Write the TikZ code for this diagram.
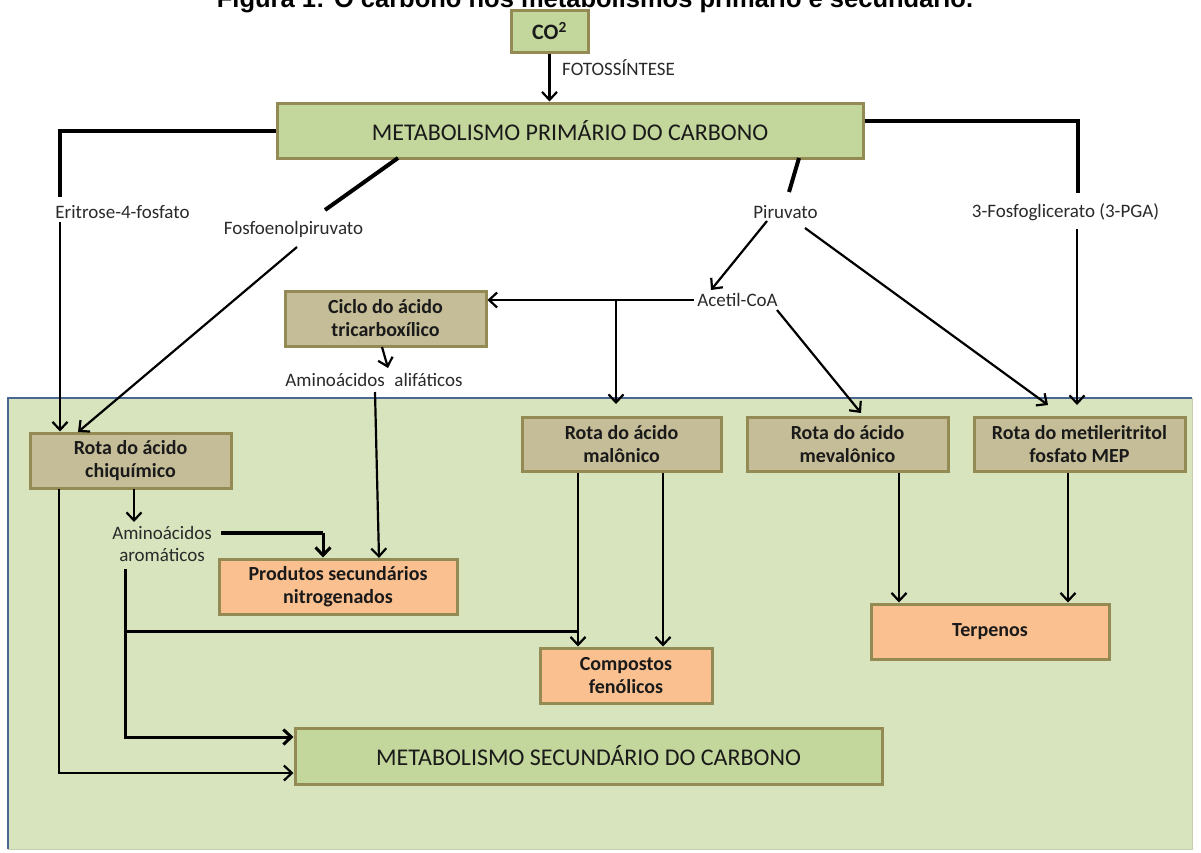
\documentclass[tikz,border=0pt]{standalone}
\usepackage{fontspec}
\setmainfont{Carlito}
\newfontfamily\titlefont{Liberation Sans}
\usetikzlibrary{arrows.meta,calc}
\definecolor{gfill}{HTML}{C3D69B}
\definecolor{tfill}{HTML}{C4BD97}
\definecolor{ofill}{HTML}{FAC090}
\definecolor{bord}{HTML}{948A54}
\definecolor{region}{HTML}{D7E4BD}
\definecolor{regline}{HTML}{4A6794}
\definecolor{txt}{HTML}{1A1A1A}
\definecolor{lbl}{HTML}{2A2A2A}
\tikzset{
  box/.style={draw=bord, line width=3pt, inner sep=0pt, align=center, text=txt},
  gbox/.style={box, fill=gfill, font=\fontsize{24}{28}\selectfont},
  tbox/.style={box, fill=tfill, font=\bfseries\fontsize{20}{23}\selectfont},
  obox/.style={box, fill=ofill, font=\bfseries\fontsize{20}{23}\selectfont},
  lab/.style={inner sep=0pt, text=lbl, font=\fontsize{19}{22}\selectfont, align=center},
  thk/.style={line width=4pt, draw=black},
  mid/.style={line width=3pt, draw=black},
  arr/.style={line width=2.2pt, draw=black, -{Straight Barb[length=8pt,width=15pt]}},
  marr/.style={line width=3pt, draw=black, -{Straight Barb[length=8pt,width=15pt]}}
}
\begin{document}
\begin{tikzpicture}[x=1pt,y=-1pt]
\useasboundingbox (0,0) rectangle (1201,852);
\clip (0,0) rectangle (1201,852);
\fill[white] (0,0) rectangle (1201,852);
% title (cut at top, as in the reference)
\node[anchor=base, inner sep=0pt, font=\titlefont\bfseries\fontsize{25.5}{30}\selectfont] (title) at (595,7) {Figura 1: O carbono nos metabolismos primário e secundário.};
% lower green region
\fill[region] (8,398) rectangle (1192,849);
\draw[regline, line width=2.5pt] (8,849) -- (8,398) -- (1192,398);
\draw[region!80!gray, line width=0.8pt] (1192,398) -- (1192,849) -- (8,849);
% boxes
\node[gbox, minimum width=77, minimum height=42, font=\bfseries\fontsize{22}{26}\selectfont] (co2) at (549.5,31) {CO\textsuperscript{2}};
\node[gbox, minimum width=586, minimum height=55] (prim) at (570,130.5) {METABOLISMO PRIMÁRIO DO CARBONO};
\node[tbox, minimum width=201, minimum height=55] (ciclo) at (385.5,318.5) {Ciclo do ácido\\tricarboxílico};
\node[tbox, minimum width=201, minimum height=55] (chiq) at (130.5,460.5) {Rota do ácido\\chiquímico};
\node[tbox, minimum width=199, minimum height=54] (malo) at (621.5,444) {Rota do ácido\\malônico};
\node[tbox, minimum width=201, minimum height=54] (meva) at (847.5,444) {Rota do ácido\\mevalônico};
\node[tbox, minimum width=211, minimum height=54] (mep) at (1079.5,444) {Rota do metileritritol\\fosfato MEP};
\node[obox, minimum width=238, minimum height=55] (prod) at (338,586.5) {Produtos secundários\\nitrogenados};
\node[obox, minimum width=172, minimum height=55] (comp) at (626,675.5) {Compostos\\fenólicos};
\node[obox, minimum width=238, minimum height=55] (terp) at (990,631.5) {Terpenos};
\node[gbox, minimum width=587, minimum height=56] (sec) at (588.5,756) {METABOLISMO SECUNDÁRIO DO CARBONO};
% labels
\node[lab, anchor=west] (foto) at (562,68) {FOTOSSÍNTESE};
\node[lab] (eri) at (122.5,212) {Eritrose-4-fosfato};
\node[lab] (fosfo) at (293.5,229) {Fosfoenolpiruvato};
\node[lab] (piru) at (785.5,212) {Piruvato};
\node[lab] (pga) at (1065.5,212) {3-Fosfoglicerato (3-PGA)};
\node[lab] (acetil) at (737.5,300) {Acetil-CoA};
\node[lab] (alif) at (374,380) {Aminoácidos\hspace{0.5em}alifáticos};
\node[lab] (arom) at (162,544) {Aminoácidos\\aromáticos};
% coordinates for line ends
\coordinate (eriT) at (60,197);
\coordinate (eriB) at (60,222);
\coordinate (fosA) at (398,158);
\coordinate (fosB) at (325,210);
\coordinate (fosC) at (297,247);
\coordinate (chiqIn) at (78,432);
\coordinate (piA) at (799,158);
\coordinate (piB) at (789,192);
\coordinate (piL) at (767,221);
\coordinate (piR) at (805,228);
\coordinate (acIn) at (711,290);
\coordinate (pgaT) at (1078,193);
\coordinate (pgaB) at (1077,229);
\coordinate (mepIn) at (1077,405);
\coordinate (mepIn2) at (1048,405);
\coordinate (acW) at (694,300);
\coordinate (acJ) at (616,300);
\coordinate (maloIn) at (616,404);
\coordinate (acE) at (777,310);
\coordinate (mevaIn) at (861,413);
\coordinate (ciA) at (382,347);
\coordinate (ciB) at (388,368);
\coordinate (alA) at (375,392);
\coordinate (alB) at (379,558);
\coordinate (chA) at (134,489);
\coordinate (chB) at (134,522);
\coordinate (arE) at (221,533);
\coordinate (arK) at (323,533);
\coordinate (arB) at (125,569);
\coordinate (arJ) at (125,631);
\coordinate (chL) at (59,489);
% connectors
\draw[arr] (co2.south) -- (co2.south |- prim.north);
\draw[thk] (prim.west) -| (eriT);
\draw[arr] (eriB) -- (eriB |- chiq.north);
\draw[thk] (fosA) -- (fosB);
\draw[arr] (fosC) -- (chiqIn);
\draw[thk] (prim.east |- 0,121) -| (pgaT);
\draw[arr] (pgaB) -- (mepIn);
\draw[thk] (piA) -- (piB);
\draw[arr] (piL) -- (acIn);
\draw[arr] (piR) -- (mepIn2);
\draw[arr] (acW) -- (acW -| ciclo.east);
\draw[arr] (acJ) -- (maloIn);
\draw[arr] (acE) -- (mevaIn);
\draw[arr] (ciA) -- (ciB);
\draw[arr] (alA) -- (alB);
\draw[arr] (chA) -- (chB);
\draw[thk] (arE) -- (arK);
\draw[marr] (arK) -- (arK |- prod.north);
\draw[arr] (chL) |- (sec.west |- 0,773);
\draw[marr] (arB) |- (sec.west |- 0,737);
\draw[mid] (arJ) -- (578,631);
\draw[arr] (malo.south -| 578,0) -- (comp.north -| 578,0);
\draw[arr] (malo.south -| 663,0) -- (comp.north -| 663,0);
\draw[arr] (meva.south -| 899,0) -- (terp.north -| 899,0);
\draw[arr] (mep.south -| 1068,0) -- (terp.north -| 1068,0);
\end{tikzpicture}
\end{document}
